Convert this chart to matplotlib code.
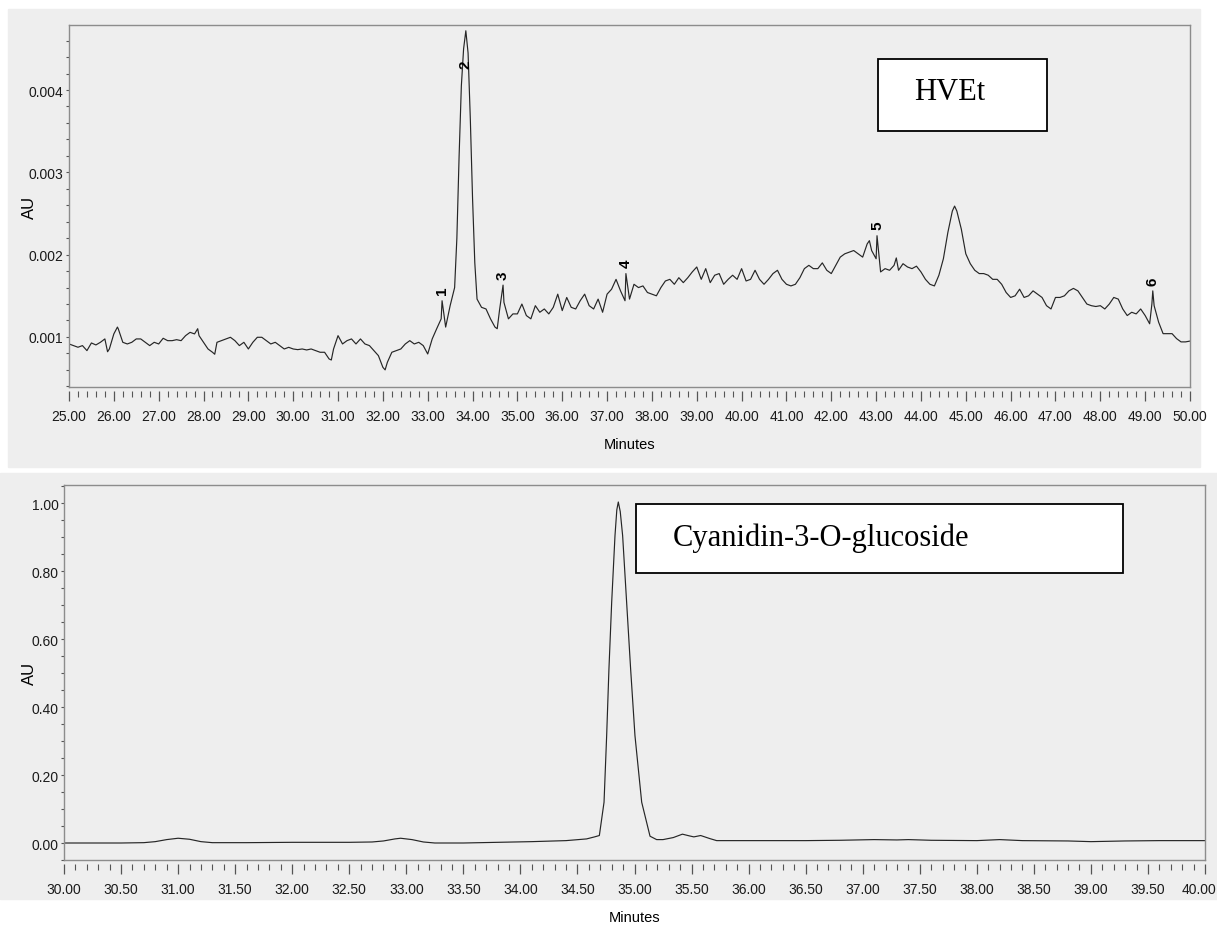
import numpy as np
import matplotlib
matplotlib.use("Agg")
import matplotlib.pyplot as plt
import matplotlib.transforms as mtransforms
from matplotlib.patches import Rectangle
from matplotlib.ticker import MultipleLocator, FormatStrFormatter

# ---- HVEt chromatogram (x1e-3 AU), sampled every 0.1 min from 25.0 to 50.0
top_grid = [
    0.915, 0.895, 0.875, 0.895, 0.834, 0.927, 0.903, 0.935, 0.976, 0.854,   # 25
    1.037, 1.097, 0.935, 0.915, 0.935, 0.976, 0.976, 0.935, 0.895, 0.935,   # 26
    0.915, 0.984, 0.955, 0.955, 0.967, 0.955, 1.016, 1.056, 1.037, 1.016,   # 27
    0.935, 0.854, 0.814, 0.935, 0.955, 0.976, 0.996, 0.955, 0.895, 0.935,   # 28
    0.854, 0.935, 0.996, 0.996, 0.955, 0.915, 0.935, 0.895, 0.854, 0.874,   # 29
    0.854, 0.846, 0.854, 0.842, 0.854, 0.834, 0.814, 0.814, 0.733, 0.854,   # 30
    1.016, 0.915, 0.955, 0.976, 0.915, 0.976, 0.915, 0.895, 0.834, 0.773,   # 31
    0.631, 0.692, 0.814, 0.834, 0.854, 0.915, 0.955, 0.915, 0.935, 0.895,   # 32
    0.793, 0.976, 1.100, 1.220, 1.120, 1.380, 1.600, 3.200, 4.500, 4.450,   # 33
    2.680, 1.460, 1.360, 1.340, 1.220, 1.120, 1.320, 1.420, 1.220, 1.280,   # 34
    1.280, 1.400, 1.260, 1.220, 1.380, 1.300, 1.340, 1.280, 1.360, 1.520,   # 35
    1.320, 1.480, 1.360, 1.340, 1.440, 1.520, 1.380, 1.340, 1.460, 1.300,   # 36
    1.520, 1.580, 1.700, 1.560, 1.440, 1.460, 1.640, 1.600, 1.620, 1.540,   # 37
    1.520, 1.500, 1.600, 1.680, 1.700, 1.640, 1.720, 1.660, 1.720, 1.790,   # 38
    1.850, 1.700, 1.830, 1.660, 1.750, 1.770, 1.640, 1.700, 1.750, 1.700,   # 39
    1.830, 1.680, 1.700, 1.810, 1.700, 1.640, 1.700, 1.770, 1.810, 1.700,   # 40
    1.640, 1.620, 1.640, 1.720, 1.830, 1.870, 1.830, 1.830, 1.900, 1.810,   # 41
    1.770, 1.870, 1.970, 2.010, 2.030, 2.050, 2.010, 1.970, 2.130, 2.050,   # 42
    1.950, 1.790, 1.830, 1.810, 1.870, 1.810, 1.890, 1.850, 1.830, 1.860,   # 43
    1.790, 1.700, 1.640, 1.620, 1.750, 1.950, 2.270, 2.530, 2.530, 2.310,   # 44
    2.010, 1.890, 1.810, 1.770, 1.770, 1.750, 1.700, 1.700, 1.640, 1.540,   # 45
    1.480, 1.500, 1.580, 1.480, 1.500, 1.560, 1.520, 1.480, 1.380, 1.340,   # 46
    1.480, 1.480, 1.500, 1.560, 1.590, 1.560, 1.480, 1.400, 1.380, 1.370,   # 47
    1.380, 1.340, 1.400, 1.480, 1.460, 1.340, 1.260, 1.300, 1.280, 1.340,   # 48
    1.260, 1.160, 1.380, 1.180, 1.040, 1.040, 1.040, 0.980, 0.940, 0.940,   # 49
    0.950,                                                                  # 50
]
top_grid_t = np.round(np.linspace(25.0, 50.0, len(top_grid)), 2)

# off-grid details
detail_t = [25.86, 26.08, 27.87, 28.25, 30.85, 32.05, 33.65, 33.75, 33.95, 34.05,
            34.55, 42.85, 43.45, 44.75, 49.15]
detail_au = [0.820, 1.120, 1.100, 0.790, 0.720, 0.600, 2.200, 4.050, 3.650, 1.900,
             1.100, 2.170, 1.960, 2.590, 1.400]

# labelled peaks (apex)
peak_names = ["1", "2", "3", "4", "5", "6"]
peak_t = [33.32, 33.85, 34.68, 37.42, 43.02, 49.17]
peak_au = [1.44, 4.72, 1.63, 1.77, 2.23, 1.56]

# ---- Cyanidin-3-O-glucoside standard
std_t = [30.0, 30.5, 30.7, 30.8, 30.9, 31.0, 31.1, 31.2, 31.3, 31.6, 32.0, 32.5,
         32.7, 32.8, 32.9, 32.95, 33.05, 33.15, 33.25, 33.5, 33.8, 34.1, 34.4,
         34.58, 34.65, 34.692, 34.733, 34.756, 34.776, 34.80, 34.829, 34.845,
         34.858, 34.875, 34.896, 34.931, 34.966, 35.004, 35.063, 35.136, 35.194,
         35.25, 35.34, 35.42, 35.48, 35.52, 35.58, 35.66, 35.72, 36.0, 36.5,
         36.8, 37.1, 37.3, 37.4, 37.6, 38.0, 38.2, 38.4, 38.8, 39.0, 39.3, 39.6, 40.0]
std_au = [0.000, 0.000, 0.001, 0.004, 0.010, 0.014, 0.011, 0.004, 0.001, 0.001, 0.002, 0.002,
          0.003, 0.006, 0.012, 0.014, 0.010, 0.003, 0.000, 0.000, 0.002, 0.004, 0.007,
          0.012, 0.018, 0.022, 0.120, 0.316, 0.512, 0.708, 0.904, 0.980,
          1.003, 0.975, 0.904, 0.708, 0.512, 0.316, 0.120, 0.020, 0.010,
          0.010, 0.016, 0.026, 0.021, 0.018, 0.022, 0.013, 0.007, 0.007, 0.007,
          0.008, 0.010, 0.009, 0.010, 0.008, 0.007, 0.010, 0.007, 0.006, 0.004, 0.006, 0.007, 0.007]

W, H = 1217, 928
bg = "#eeeeee"
frame = "#8c8c8c"
trace = "#262626"
tick_font = ["Liberation Sans", "DejaVu Sans"]

fig = plt.figure(figsize=(W / 100, H / 100), dpi=100, facecolor="white")

# grey panels behind the two chromatograms
fig.patches.append(Rectangle((8 / W, 1 - 468 / H), 1192 / W, 458 / H,
                             transform=fig.transFigure, color=bg, zorder=-5))
fig.patches.append(Rectangle((0, 1 - 900 / H), 1, 426 / H,
                             transform=fig.transFigure, color=bg, zorder=-5))


def px_axes(l, t, r, b):
    return fig.add_axes([l / W, 1 - b / H, (r - l) / W, (b - t) / H])


def style(ax, xmaj, xmin, ymaj, ymin, yfmt):
    ax.set_facecolor(bg)
    for s in ax.spines.values():
        s.set_color(frame)
        s.set_linewidth(1.0)
    ax.spines["bottom"].set_position(("outward", 3))
    ax.spines["bottom"].set_visible(False)
    ax.plot([0, 1], [0, 0], transform=ax.transAxes, color=frame, lw=1.0, clip_on=False)
    ax.xaxis.set_major_locator(MultipleLocator(xmaj))
    ax.xaxis.set_minor_locator(MultipleLocator(xmin))
    ax.yaxis.set_major_locator(MultipleLocator(ymaj))
    ax.yaxis.set_minor_locator(MultipleLocator(ymin))
    ax.xaxis.set_major_formatter(FormatStrFormatter("%.2f"))
    ax.yaxis.set_major_formatter(FormatStrFormatter(yfmt))
    ax.tick_params(axis="x", which="major", length=7.5, width=0.9, color="#555555", pad=5)
    ax.tick_params(axis="x", which="minor", length=4, width=0.8, color="#555555")
    ax.tick_params(axis="y", which="major", length=2.5, width=0.8, color="#555555", pad=1.5)
    ax.tick_params(axis="y", which="minor", length=2, width=0.8, color="#555555")
    for lab in ax.get_xticklabels() + ax.get_yticklabels():
        lab.set_family(tick_font)
        lab.set_fontsize(10)
        lab.set_color("#1a1a1a")


# ---------------- top: HVEt ----------------
ax1 = px_axes(69, 26, 1190, 388)
t_all = np.concatenate([top_grid_t, detail_t, peak_t])
y_all = np.concatenate([top_grid, detail_au, peak_au]) * 1e-3
order = np.argsort(t_all)
ax1.plot(t_all[order], y_all[order], color=trace, lw=0.85)
ax1.set_xlim(25, 50)
ax1.set_ylim(0.000392, 0.00479)
style(ax1, 1, 0.2, 0.001, 0.0002, "%.3f")

label_off = [4.5, -27, 4.5, 4.5, 4.5, 4.5]
for name, t, v, off in zip(peak_names, peak_t, peak_au, label_off):
    ax1.annotate(name, (t, v * 1e-3), xytext=(0, off), textcoords="offset points",
                 rotation=90, ha="center", va="bottom", fontsize=11, color="black",
                 fontweight="bold", family=["Liberation Sans", "DejaVu Sans"])

ax1.set_xlabel("Minutes", family=tick_font, fontsize=10.5)
ax1.xaxis.set_label_coords(0.5, -0.138)
ax1.xaxis.label.set_va("top")
ax1.set_ylabel("AU", family=["Liberation Sans", "DejaVu Sans"], fontsize=12)
ax1.yaxis.set_label_coords(-0.0285, 0.5)

ax1.add_patch(Rectangle((0.7217, 0.7072), 0.1507, 0.1988, transform=ax1.transAxes,
                        facecolor="white", edgecolor="black", lw=1.3, zorder=5))
ax1.text(0.7538, 0.7956, "HVEt", transform=ax1.transAxes, family=["Liberation Serif", "DejaVu Serif"],
         fontsize=22, ha="left", va="baseline", zorder=6)

# ---------------- bottom: Cyanidin-3-O-glucoside ----------------
ax2 = px_axes(64, 486, 1205, 861)
ax2.plot(std_t, std_au, color=trace, lw=0.85)
ax2.set_xlim(30, 40)
ax2.set_ylim(-0.05, 1.053)
style(ax2, 0.5, 0.1, 0.2, 0.05, "%.2f")

# keep the last tick label inside the picture
fig.canvas.draw()
last = [lab for lab in ax2.get_xticklabels() if lab.get_text() == "40.00"]
for lab in last:
    lab.set_transform(lab.get_transform() + mtransforms.ScaledTranslation(-6 / 100, 0, fig.dpi_scale_trans))

ax2.set_xlabel("Minutes", family=tick_font, fontsize=10.5)
ax2.xaxis.set_label_coords(0.5, -0.133)
ax2.xaxis.label.set_va("top")
ax2.set_ylabel("AU", family=["Liberation Sans", "DejaVu Sans"], fontsize=12)
ax2.yaxis.set_label_coords(-0.0237, 0.5)

ax2.add_patch(Rectangle((0.5013, 0.7653), 0.4268, 0.184, transform=ax2.transAxes,
                        facecolor="white", edgecolor="black", lw=1.3, zorder=5))
ax2.text(0.5335, 0.84, "Cyanidin-3-O-glucoside", transform=ax2.transAxes,
         family=["Liberation Serif", "DejaVu Serif"], fontsize=22, ha="left", va="baseline", zorder=6)

fig.savefig("out.png", dpi=100, facecolor="white")
